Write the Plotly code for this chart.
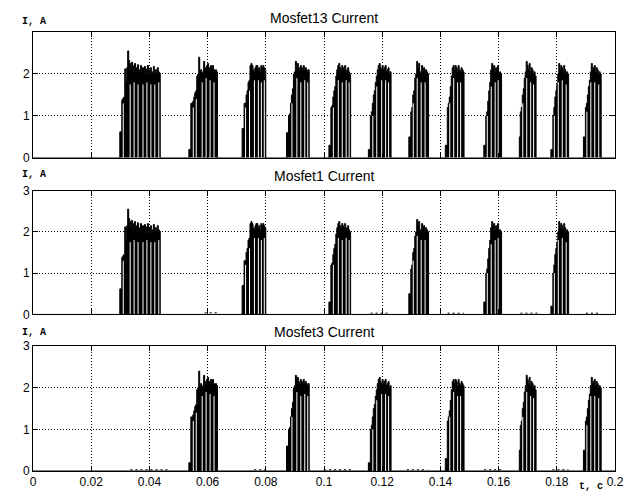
import plotly.graph_objects as go
from plotly.subplots import make_subplots

# ---------------- data ----------------
T_MAX = 0.2
SAMPLE_DT = 0.000339  # time step between recorded samples, s

x_tick_vals = [0, 0.02, 0.04, 0.06, 0.08, 0.1, 0.12, 0.14, 0.16, 0.18, 0.2]
x_tick_text = ["0", "0.02", "0.04", "0.06", "0.08", "0.1", "0.12", "0.14", "0.16", "0.18", "0.2"]
y_tick_vals = [0, 1, 2, 3]

panel_titles = ["Mosfet13 Current", "Mosfet1 Current", "Mosfet3 Current"]
y_label = "I, A"
x_label = "t, c"

# start time of each conduction burst, s
burst_start = [0.02983, 0.05356, 0.07186, 0.08712, 0.10169, 0.11525,
               0.12915, 0.14169, 0.15492, 0.16712, 0.17797, 0.18915]

# current samples (A) of every burst
burst_01 = [0.62, 0.62, 1.38, 1.42, 1.45, 2.12, 1.8, 2.15, 2.55, 2.32, 2.25, 2.1, 2.28, 2.2,
            2.05, 2.25, 2.15, 2.0, 2.22, 2.1, 2.05, 2.2, 2.0, 2.15, 2.05, 2.18, 1.98, 2.12,
            2.2, 2.0, 2.1, 2.15, 1.98, 2.05, 2.18, 2.0, 2.1, 2.02, 2.15, 2.05, 2.02]
burst_02 = [0.2, 0.2, 1.3, 1.3, 1.35, 1.45, 1.55, 1.6, 1.95, 2.0, 2.4, 2.05, 2.1, 2.0, 2.05,
            2.3, 2.15, 2.1, 2.2, 2.25, 2.15, 2.1, 2.2, 2.15, 2.2, 2.1, 2.05, 2.1, 2.05]
burst_03 = [0.7, 0.7, 1.3, 1.3, 1.5, 1.6, 1.8, 1.85, 2.2, 2.25, 2.2, 2.1, 2.05, 2.15, 2.2,
            2.2, 2.1, 2.15, 2.05, 2.2, 2.15, 2.2, 2.15, 2.1]
burst_04 = [0.6, 0.6, 1.0, 1.05, 1.3, 1.5, 1.65, 2.0, 2.05, 2.3, 2.2, 2.25, 2.15, 2.1, 2.2,
            2.15, 2.1, 2.2, 2.1, 2.15, 2.1, 2.05, 2.1]
burst_05 = [0.3, 0.3, 1.2, 1.25, 1.45, 1.6, 1.7, 1.95, 2.1, 2.2, 2.25, 2.15, 2.1, 2.2, 2.15,
            2.1, 2.2, 2.05, 2.1, 2.15, 2.05, 2.0]
burst_06 = [0.2, 0.2, 1.0, 1.1, 1.3, 1.5, 1.6, 1.8, 1.95, 2.1, 2.2, 2.25, 2.15, 2.1, 2.2,
            2.1, 2.15, 2.2, 2.05, 2.1, 2.15, 2.0, 2.05]
burst_07 = [0.5, 0.5, 1.1, 1.2, 1.5, 1.6, 1.9, 2.0, 2.3, 2.15, 2.25, 2.05, 2.0, 2.2, 2.1,
            2.15, 2.0, 2.1, 2.05, 2.0]
burst_08 = [0.3, 0.3, 1.2, 1.3, 1.45, 1.7, 1.95, 2.15, 2.2, 2.1, 2.2, 2.15, 2.05, 2.2, 2.1,
            2.05, 2.15, 2.1, 2.05]
burst_09 = [0.3, 0.3, 1.0, 1.1, 1.35, 1.6, 1.8, 2.1, 2.25, 2.15, 2.2, 2.05, 2.15, 2.1, 2.2,
            2.0, 2.05, 2.0]
burst_10 = [0.5, 1.1, 1.2, 1.5, 1.65, 1.9, 2.05, 2.3, 2.2, 2.1, 2.25, 2.05, 2.15, 2.1, 2.0,
            2.05, 1.95]
burst_11 = [0.2, 0.2, 1.0, 1.2, 1.45, 1.6, 1.75, 2.0, 2.25, 2.1, 2.2, 2.15, 2.05, 2.2, 2.1,
            2.0, 2.05, 2.0]
burst_12 = [0.5, 0.5, 1.2, 1.3, 1.5, 1.7, 1.85, 2.05, 2.25, 2.1, 2.15, 2.2, 2.05, 2.15, 2.1,
            2.0, 2.05, 2.0]
burst_levels = [burst_01, burst_02, burst_03, burst_04, burst_05, burst_06,
                burst_07, burst_08, burst_09, burst_10, burst_11, burst_12]

# switching gaps inside each burst: (sample index, current reached before the gap, A)
gaps_01 = [(3, 1.3), (10, 1.75), (14, 1.8), (18, 1.75), (23, 1.75), (27, 1.8), (31, 1.75), (35, 1.75), (39, 1.8)]
gaps_02 = [(4, 1.2), (7, 1.4), (13, 1.8), (17, 1.9), (21, 1.85), (25, 1.8)]
gaps_03 = [(3, 1.2), (7, 1.6), (12, 1.85), (16, 1.85), (19, 1.8), (22, 1.85)]
gaps_04 = [(5, 1.3), (10, 1.9), (14, 1.8), (18, 1.85), (21, 1.8)]
gaps_05 = [(4, 1.2), (9, 1.85), (13, 1.8), (17, 1.85), (20, 1.8)]
gaps_06 = [(4, 1.0), (8, 1.7), (13, 1.85), (17, 1.85), (20, 1.8)]
gaps_07 = [(4, 1.3), (8, 1.9), (12, 1.8), (16, 1.8)]
gaps_08 = [(4, 1.3), (8, 1.9), (12, 1.8), (15, 1.8)]
gaps_09 = [(3, 1.0), (7, 1.7), (11, 1.8), (14, 1.85)]
gaps_10 = [(3, 1.3), (7, 1.9), (11, 1.8), (14, 1.75)]
gaps_11 = [(3, 1.0), (7, 1.8), (11, 1.85), (15, 1.75)]
gaps_12 = [(3, 1.1), (7, 1.8), (11, 1.8), (15, 1.75)]
burst_gaps = [gaps_01, gaps_02, gaps_03, gaps_04, gaps_05, gaps_06,
              gaps_07, gaps_08, gaps_09, gaps_10, gaps_11, gaps_12]

mosfet13_bursts = [0, 1, 2, 3, 4, 5, 6, 7, 8, 9, 10, 11]
mosfet1_bursts = [0, 2, 4, 6, 8, 10]
mosfet3_bursts = [1, 3, 5, 7, 9, 11]

# small leakage currents: (t start, t end, current A)
leak_mosfet13 = []
leak_mosfet1 = [(0.0590, 0.0640, 0.04), (0.1160, 0.1220, 0.03), (0.1425, 0.1480, 0.03),
                (0.1675, 0.1735, 0.03), (0.1900, 0.1950, 0.03)]
leak_mosfet3 = [(0.0335, 0.0470, 0.03), (0.0760, 0.0800, 0.03), (0.1000, 0.1095, 0.03),
                (0.1285, 0.1355, 0.03), (0.1550, 0.1610, 0.03), (0.1785, 0.1840, 0.03)]

panels = [(mosfet13_bursts, leak_mosfet13), (mosfet1_bursts, leak_mosfet1), (mosfet3_bursts, leak_mosfet3)]

# ---------------- figure ----------------
fig = make_subplots(rows=3, cols=1)

for row, (bursts, leaks) in enumerate(panels, start=1):
    xs, ys = [0.0], [0.0]
    gx, gy = [], []
    for b in bursts:
        t0 = burst_start[b]
        vals = burst_levels[b]
        for i, v in enumerate(vals):
            xs.append(t0 + i * SAMPLE_DT)
            ys.append(v)
        xs.append(t0 + len(vals) * SAMPLE_DT)
        ys.append(0.0)
        for idx, top in burst_gaps[b]:
            tg = t0 + (idx + 0.5) * SAMPLE_DT
            gx += [tg, tg, None]
            gy += [0, top, None]
    xs.append(T_MAX)
    ys.append(0.0)
    fig.add_trace(go.Scatter(x=xs, y=ys, mode="lines", line=dict(shape="hv", color="#000000", width=1),
                             fill="tozeroy", fillcolor="#000000", hoverinfo="skip", showlegend=False),
                  row=row, col=1)
    if gx:
        fig.add_trace(go.Scatter(x=gx, y=gy, mode="lines", line=dict(color="#ffffff", width=1),
                                 hoverinfo="skip", showlegend=False), row=row, col=1)
    if leaks:
        lx, ly = [], []
        for a, b2, lev in leaks:
            lx += [a, b2, None]
            ly += [lev, lev, None]
        fig.add_trace(go.Scatter(x=lx, y=ly, mode="lines", line=dict(color="#000000", width=1, dash="2px,3px"),
                                 hoverinfo="skip", showlegend=False), row=row, col=1)

W, H = 633, 498
ML, MR, MT, MB = 33, 9, 32, 23
plot_h = H - MT - MB
# pixel rows of each panel (top, bottom)
panel_px = [(32, 159), (192, 317), (349, 475)]
domains = [[(H - MB - bot) / plot_h, (H - MB - top) / plot_h] for top, bot in panel_px]

axis_common = dict(showline=True, linecolor="#000000", linewidth=1, mirror="ticks",
                   ticks="inside", ticklen=5, tickcolor="#000000", tickwidth=1,
                   showgrid=True, gridcolor="#000000", gridwidth=1, griddash="1px,2px",
                   zeroline=False, tickfont=dict(family="Arial, Liberation Sans", size=12, color="#000000"))

for i in range(3):
    xname = "xaxis" if i == 0 else f"xaxis{i+1}"
    yname = "yaxis" if i == 0 else f"yaxis{i+1}"
    fig.layout[xname].update(range=[0, T_MAX], tickmode="array", tickvals=x_tick_vals,
                             ticktext=x_tick_text, showticklabels=(i == 2), **axis_common)
    fig.layout[yname].update(range=[0, 3], domain=domains[i], tickmode="array",
                             tickvals=(y_tick_vals[:3] if i == 0 else y_tick_vals), **axis_common)

title_shift = [14, 15, 14]
ylab_shift = [11, 16, 14]
for i in range(3):
    yd = "y domain" if i == 0 else f"y{i+1} domain"
    xd = "x domain" if i == 0 else f"x{i+1} domain"
    fig.add_annotation(text=panel_titles[i], xref=xd, yref=yd, x=0.5, y=1, xanchor="center",
                       yanchor="middle", yshift=title_shift[i], showarrow=False,
                       font=dict(family="Arial, Liberation Sans", size=14, color="#000000"))
    fig.add_annotation(text="<b>" + y_label + "</b>", xref=xd, yref=yd, x=0, y=1, xanchor="center",
                       yanchor="middle", yshift=ylab_shift[i], xshift=1, showarrow=False,
                       font=dict(family="Liberation Mono", size=10, color="#000000"))

fig.add_annotation(text="<b>" + x_label + "</b>", xref="x3 domain", yref="y3 domain", x=0.958, y=0,
                   xanchor="center", yanchor="middle", yshift=-15, showarrow=False,
                   font=dict(family="Liberation Mono", size=10, color="#000000"))

fig.update_layout(width=W, height=H, margin=dict(l=ML, r=MR, t=MT, b=MB),
                  paper_bgcolor="#ffffff", plot_bgcolor="#ffffff", showlegend=False)

# remove the browser's default page margin so the figure fills the window exactly
fig.write_html("out.html", config={"displayModeBar": False},
               post_script="document.body.style.margin='0px';")
